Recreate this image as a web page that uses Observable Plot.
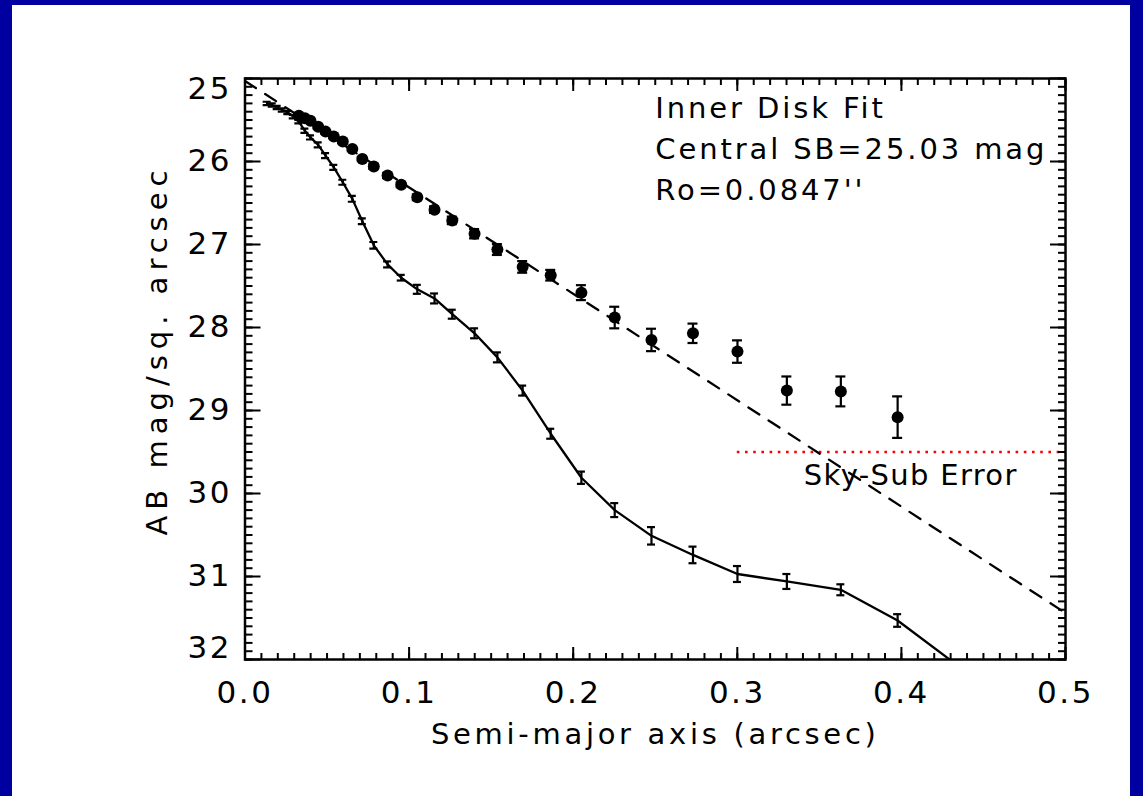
<!DOCTYPE html>
<html><head><meta charset="utf-8">
<script src="https://cdn.jsdelivr.net/npm/d3@7"></script>
<script src="https://cdn.jsdelivr.net/npm/@observablehq/plot@0.6"></script>
<style>
html,body{margin:0;padding:0;background:#0000a0;overflow:hidden;width:1143px;height:796px}
#panel{position:absolute;left:12px;top:5px;width:1118px;height:791px;background:#fff}
#chart{position:absolute;left:0;top:0}
</style></head><body>
<div id="panel"></div><div id="chart"></div>
<script>
// ---- data ----
// filled circles (measured profile)
const s1Radius = [0.0328,0.0365,0.0399,0.0446,0.0491,0.0541,0.0596,0.0654,0.0715,0.0785,0.0869,0.0952,0.1050,0.1155,0.1263,0.1399,0.1538,0.1692,0.1863,0.2050,0.2253,0.2477,0.2730,0.3001,0.3302,0.3631,0.3977];
const s1Mag    = [25.45,25.48,25.51,25.58,25.64,25.70,25.76,25.85,25.97,26.06,26.17,26.28,26.43,26.58,26.71,26.87,27.06,27.27,27.37,27.58,27.88,28.15,28.07,28.29,28.76,28.77,29.08];
const s1Err    = [0.02,0.02,0.02,0.02,0.02,0.02,0.02,0.025,0.025,0.03,0.03,0.03,0.035,0.04,0.045,0.055,0.066,0.07,0.064,0.09,0.13,0.135,0.117,0.135,0.17,0.18,0.25];
// solid line with error bars
const s2Radius = [0.0135,0.0166,0.0196,0.0227,0.0261,0.0294,0.0328,0.0365,0.0399,0.0446,0.0491,0.0541,0.0596,0.0654,0.0715,0.0785,0.0869,0.0952,0.1050,0.1155,0.1263,0.1399,0.1538,0.1692,0.1863,0.2050,0.2253,0.2477,0.2730,0.3001,0.3302,0.3631,0.3977,0.4395];
const s2Mag    = [25.30,25.32,25.35,25.38,25.41,25.46,25.52,25.63,25.71,25.80,25.93,26.07,26.25,26.45,26.72,27.01,27.24,27.40,27.54,27.65,27.84,28.07,28.36,28.76,29.28,29.81,30.20,30.51,30.74,30.97,31.06,31.16,31.53,32.15];
const s2Err    = [0.02,0.02,0.02,0.02,0.02,0.02,0.02,0.025,0.025,0.03,0.03,0.03,0.03,0.035,0.035,0.04,0.036,0.034,0.054,0.06,0.054,0.06,0.06,0.06,0.06,0.074,0.084,0.105,0.10,0.096,0.09,0.066,0.076,0.08];
// inner disk exponential fit (dashed straight line)
const fitRadius = [0.0, 0.5];
const fitMag    = [25.03, 31.44];
// sky-subtraction error level
const skyLevel = [29.5];
const skyRange = [0.3, 0.5];
const skyLabel = ["Sky-Sub Error"];
// annotations & axis text
const annotationLines = ["Inner Disk Fit", "Central SB=25.03 mag", "Ro=0.0847''"];
const xTitle = ["Semi-major axis (arcsec)"];
const yTitle = ["AB mag/sq. arcsec"];
const xMajor = [0.0, 0.1, 0.2, 0.3, 0.4, 0.5];
const xTickLabels = ["0.0", "0.1", "0.2", "0.3", "0.4", "0.5"];
const yMajor = [25, 26, 27, 28, 29, 30, 31, 32];
const yTickLabels = ["25", "26", "27", "28", "29", "30", "31", "32"];
const xMinor = d3.range(0, 50.5, 1).map(d => d / 100);
const yMinor = d3.range(250, 320.5, 1).map(d => d / 10);

// ---- tables ----
const s1 = s1Radius.map((r, i) => ({r, mu: s1Mag[i], lo: s1Mag[i] - s1Err[i], hi: s1Mag[i] + s1Err[i]}));
const s2 = s2Radius.map((r, i) => ({r, mu: s2Mag[i], lo: s2Mag[i] - s2Err[i], hi: s2Mag[i] + s2Err[i]}));
const fit = fitRadius.map((r, i) => ({r, mu: fitMag[i]}));
const xLab = xMajor.map((v, i) => ({v, t: xTickLabels[i]}));
const yLab = yMajor.map((v, i) => ({v, t: yTickLabels[i]}));

const axisOpts = {fill: "none", label: null, strokeWidth: 2};
const errBars = (data, cap) => [
  Plot.ruleX(data, {x: "r", y1: "lo", y2: "hi", strokeWidth: 2.2, clip: true}),
  Plot.ruleY(data, {y: "lo", x1: "r", x2: "r", insetLeft: -cap, insetRight: -cap, strokeWidth: 2.2, clip: true}),
  Plot.ruleY(data, {y: "hi", x1: "r", x2: "r", insetLeft: -cap, insetRight: -cap, strokeWidth: 2.2, clip: true})
];

const chart = Plot.plot({
  width: 1143, height: 796,
  marginLeft: 244.5, marginRight: 78, marginTop: 78, marginBottom: 137,
  style: {background: "transparent", fontFamily: "'DejaVu Sans', sans-serif", fontSize: "30px", color: "black", letterSpacing: "2.5px", overflow: "visible"},
  x: {domain: [0, 0.5], axis: null},
  y: {domain: [25, 32], reverse: true, axis: null},
  marks: [
    Plot.ruleY(skyLevel, {y: d => d, x1: skyRange[0], x2: skyRange[1], stroke: "#ff0000", strokeWidth: 2.6, strokeDasharray: "2.6,5.6"}),
    Plot.line(fit, {x: "r", y: "mu", strokeWidth: 2.3, strokeDasharray: "13,11", clip: true}),
    Plot.line(s2, {x: "r", y: "mu", strokeWidth: 2.3, clip: true}),
    ...errBars(s2, 4),
    ...errBars(s1, 5),
    Plot.dot(s1, {x: "r", y: "mu", r: 6, fill: "black", stroke: "none"}),
    // ticks, all four sides, pointing inward
    Plot.axisX(xMajor, {anchor: "bottom", tickSize: -12, ...axisOpts}),
    Plot.axisX(xMinor, {anchor: "bottom", tickSize: -6, ...axisOpts}),
    Plot.axisX(xMajor, {anchor: "top", tickSize: -12, ...axisOpts}),
    Plot.axisX(xMinor, {anchor: "top", tickSize: -6, ...axisOpts}),
    Plot.axisY(yMajor, {anchor: "left", tickSize: -16, ...axisOpts}),
    Plot.axisY(yMinor, {anchor: "left", tickSize: -8, ...axisOpts}),
    Plot.axisY(yMajor, {anchor: "right", tickSize: -16, ...axisOpts}),
    Plot.axisY(yMinor, {anchor: "right", tickSize: -8, ...axisOpts}),
    Plot.frame({strokeWidth: 2.5}),
    // tick labels
    Plot.text(xLab, {x: "v", text: "t", frameAnchor: "bottom", dy: 43, fontSize: 31}),
    Plot.text(yLab.filter(d => d.v > 25 && d.v < 32), {y: "v", text: "t", frameAnchor: "left", dx: -13, textAnchor: "end", fontSize: 31}),
    Plot.text(yLab.filter(d => d.v === 25), {y: "v", text: "t", frameAnchor: "left", dx: -13, dy: 11, textAnchor: "end", fontSize: 31}),
    Plot.text(yLab.filter(d => d.v === 32), {y: "v", text: "t", frameAnchor: "left", dx: -13, dy: -11, textAnchor: "end", fontSize: 31}),
    // titles
    Plot.text(xTitle, {text: d => d, frameAnchor: "bottom", dy: 84, fontSize: 29}),
    Plot.text(yTitle, {text: d => d, frameAnchor: "left", textAnchor: "middle", rotate: -90, dx: -87, dy: -19, fontSize: 29}),
    // annotations
    Plot.text([annotationLines.join("\n")], {text: d => d, x: 0.25, y: 25.81, textAnchor: "start", lineHeight: 1.41, fontSize: 29}),
    Plot.text(skyLabel, {text: d => d, x: 0.3405, y: 29.79, textAnchor: "start", fontSize: 29})
  ]
});
// per-text letter spacing (Hershey-like wide spacing)
const spacing = new Map([[xTitle[0], "3.7px"], [yTitle[0], "6px"], [skyLabel[0], "1.35px"], [annotationLines.join(""), "2.9px"]]);
chart.querySelectorAll("text").forEach(t => {
  const s = spacing.get(t.textContent);
  if (s) t.style.letterSpacing = s;
});
document.getElementById("chart").appendChild(chart);
</script></body></html>
